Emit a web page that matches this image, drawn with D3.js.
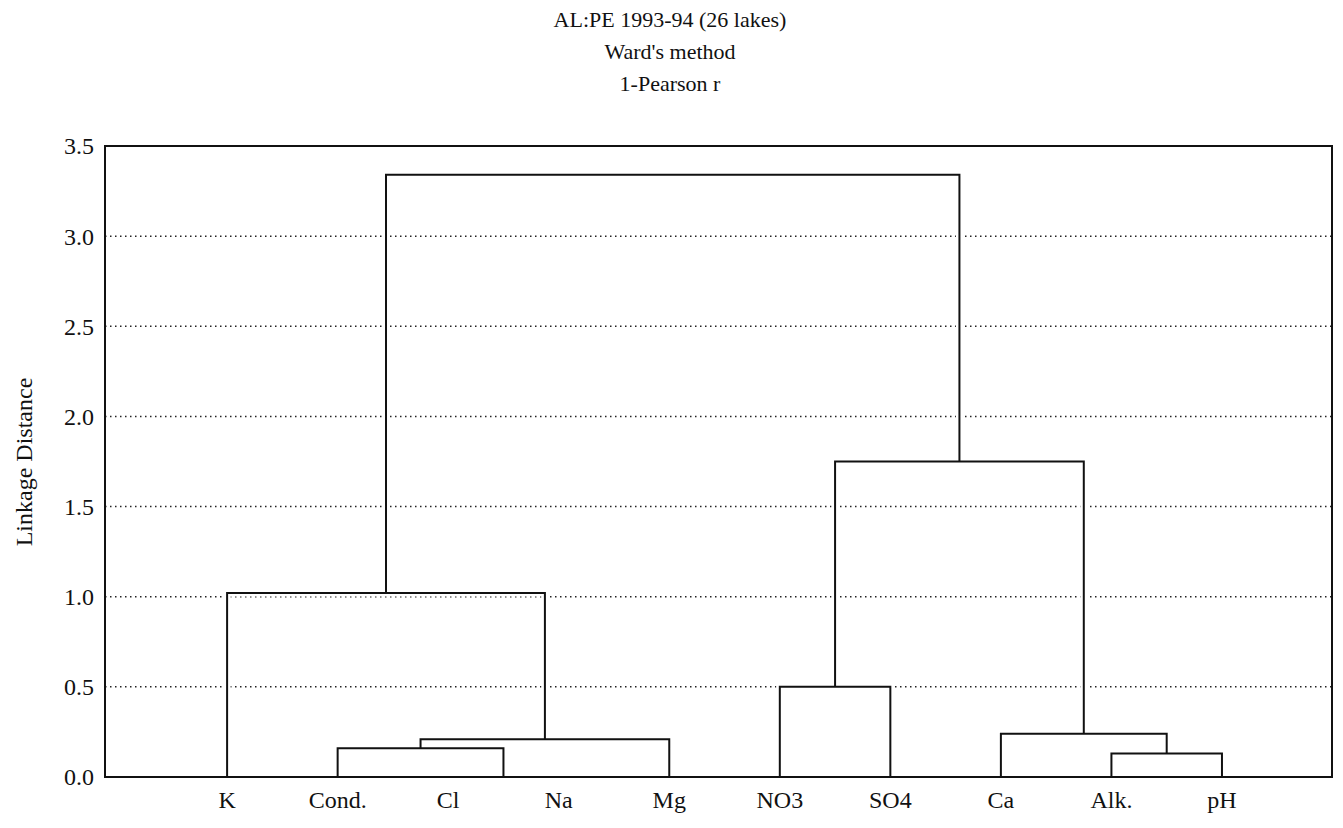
<!DOCTYPE html>
<html lang="en">
<head>
<meta charset="UTF-8">
<title>AL:PE 1993-94 dendrogram</title>
<script src="https://d3js.org/d3.v7.min.js"></script>
<style>
    body { margin: 0; background: #fff; }
    svg text {
        font-family: "Liberation Serif", "Times New Roman", serif;
        fill: #111;
    }
    .grid line {
        stroke: #222;
        stroke-width: 1.5;
        stroke-dasharray: 1.5, 3.5;
    }
    .tree path {
        fill: none;
        stroke: #111;
        stroke-width: 2;
    }
</style>
</head>
<body>
<svg></svg>
<script>
    // leaves, left to right as they sit on the axis
    var leaves = ["K", "Cond.", "Cl", "Na", "Mg", "NO3", "SO4", "Ca", "Alk.", "pH"];

    // linkage: ids 0-9 are leaves, each merge gets id 10, 11, ...
    var mergeLeft   = [2, 8, 1, 12, 7, 5, 0, 15, 16];
    var mergeRight  = [3, 9, 10, 4, 11, 6, 13, 14, 17];
    var mergeHeight = [0.0, 0.13, 0.16, 0.21, 0.24, 0.50, 1.02, 1.75, 3.34];

    var yTicks = [0.0, 0.5, 1.0, 1.5, 2.0, 2.5, 3.0, 3.5];
    var titleLines = ["AL:PE 1993-94 (26 lakes)", "Ward's method", "1-Pearson r"];
    var yTitle = "Linkage Distance";

    var w = 1343, h = 828;
    var padding = { top: 146, right: 11, bottom: 51, left: 105 };

    var svg = d3.select("svg")
        .attr("width", w)
        .attr("height", h);

    var x = d3.scalePoint()
        .domain(leaves)
        .range([padding.left, w - padding.right])
        .padding(1.05)
        .align(0.526);

    var y = d3.scaleLinear()
        .domain([0, 3.5])
        .range([h - padding.bottom, padding.top]);

    // dotted grid
    svg.append("g")
        .attr("class", "grid")
        .selectAll("line")
        .data(yTicks.filter(d => d > 0 && d < 3.5))
        .enter().append("line")
        .attr("x1", padding.left)
        .attr("x2", w - padding.right)
        .attr("y1", d => y(d))
        .attr("y2", d => y(d));

    // node positions
    var nodeX = leaves.map(d => x(d));
    var nodeH = leaves.map(() => 0);
    mergeHeight.forEach((mh, i) => {
        nodeX.push((nodeX[mergeLeft[i]] + nodeX[mergeRight[i]]) / 2);
        nodeH.push(mh);
    });

    var links = mergeHeight.map((mh, i) => {
        var a = mergeLeft[i], b = mergeRight[i];
        return "M" + nodeX[a] + "," + y(nodeH[a]) +
               "V" + y(mh) +
               "H" + nodeX[b] +
               "V" + y(nodeH[b]);
    });

    var tree = svg.append("g").attr("class", "tree");

    // white halo so the dotted lines break round the branches
    tree.selectAll("path.halo")
        .data(links)
        .enter().append("path")
        .attr("class", "halo")
        .attr("d", d => d)
        .style("stroke", "#fff")
        .style("stroke-width", 7);

    tree.selectAll("path.branch")
        .data(links)
        .enter().append("path")
        .attr("class", "branch")
        .attr("d", d => d);

    // frame
    svg.append("rect")
        .attr("x", padding.left)
        .attr("y", padding.top)
        .attr("width", w - padding.left - padding.right)
        .attr("height", h - padding.top - padding.bottom)
        .attr("fill", "none")
        .attr("stroke", "#111")
        .attr("stroke-width", 2);

    // y tick labels
    svg.append("g")
        .selectAll("text")
        .data(yTicks)
        .enter().append("text")
        .attr("x", padding.left - 11)
        .attr("y", d => y(d))
        .attr("dy", "0.35em")
        .attr("text-anchor", "end")
        .style("font-size", "24px")
        .text(d3.format(".1f"));

    // leaf labels
    svg.append("g")
        .selectAll("text")
        .data(leaves)
        .enter().append("text")
        .attr("x", d => x(d))
        .attr("y", h - padding.bottom + 31)
        .attr("text-anchor", "middle")
        .style("font-size", "24px")
        .text(d => d);

    svg.append("text")
        .attr("transform", "translate(24," + 462 + ") rotate(-90)")
        .attr("text-anchor", "middle")
        .attr("dy", "0.35em")
        .style("font-size", "24px")
        .text(yTitle);

    svg.append("g")
        .selectAll("text")
        .data(titleLines)
        .enter().append("text")
        .attr("x", 670)
        .attr("y", (d, i) => 27 + i * 32)
        .attr("text-anchor", "middle")
        .style("font-size", "22px")
        .text(d => d);
</script>
</body>
</html>
